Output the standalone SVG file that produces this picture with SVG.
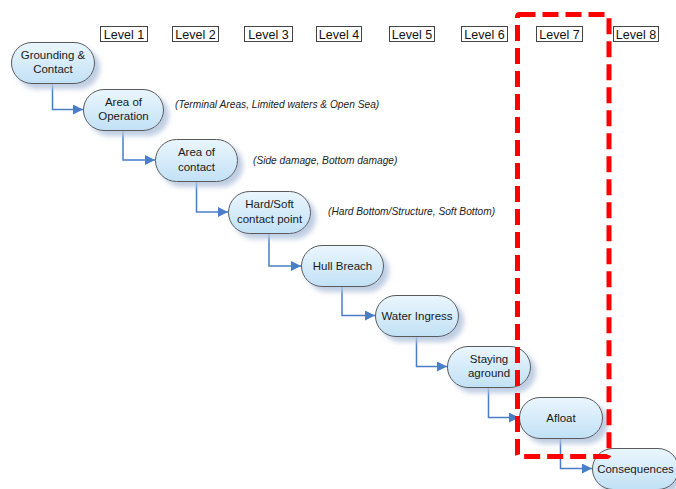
<svg xmlns="http://www.w3.org/2000/svg" width="676" height="489" viewBox="0 0 676 489">
  <defs>
    <linearGradient id="nodeFill" x1="0" y1="0" x2="0" y2="1">
      <stop offset="0" stop-color="#eaf6fd"/>
      <stop offset="1" stop-color="#c2e1f6"/>
    </linearGradient>
    <filter id="shadow" x="-20%" y="-20%" width="150%" height="160%">
      <feDropShadow dx="5" dy="5" stdDeviation="2.5" flood-color="#b4c5de" flood-opacity="0.85"/>
    </filter>
    <marker id="arrow" viewBox="0 0 10 10" refX="10" refY="5" markerWidth="10" markerHeight="10" markerUnits="userSpaceOnUse" orient="auto">
      <path d="M0,0 L10,5 L0,10 z" fill="#4a7ec7"/>
    </marker>
    <style>
      .node rect { fill: url(#nodeFill); stroke: #5a5a5a; stroke-width: 1; filter: url(#shadow); }
      .node text { font-family: "Liberation Sans", Arial, sans-serif; font-size: 11.5px; fill: #1a1a1a; text-anchor: middle; }
      .level rect { fill: #ffffff; stroke: #444444; stroke-width: 1; }
      .level text { font-family: "Liberation Sans", Arial, sans-serif; font-size: 12.5px; fill: #111111; text-anchor: middle; }
      .note { font-family: "Liberation Sans", Arial, sans-serif; font-size: 10.2px; font-style: italic; fill: #222222; }
      .conn path { fill: none; stroke: #4a7ec7; stroke-width: 1.5; marker-end: url(#arrow); }
    </style>
  </defs>
  <rect width="676" height="489" fill="#ffffff"/>

  <!-- level headers -->
  <g id="levels">
    <g class="level" id="level1"><rect x="100.5" y="26.5" width="47" height="15"/><text x="124" y="38.5">Level 1</text></g>
    <g class="level" id="level2"><rect x="172.5" y="26.5" width="46" height="15"/><text x="195.5" y="38.5">Level 2</text></g>
    <g class="level" id="level3"><rect x="244.5" y="26.5" width="48" height="15"/><text x="268.5" y="38.5">Level 3</text></g>
    <g class="level" id="level4"><rect x="316.5" y="26.5" width="45" height="15"/><text x="339" y="38.5">Level 4</text></g>
    <g class="level" id="level5"><rect x="389.5" y="26.5" width="45" height="15"/><text x="412" y="38.5">Level 5</text></g>
    <g class="level" id="level6"><rect x="461.5" y="26.5" width="46" height="15"/><text x="484.5" y="38.5">Level 6</text></g>
    <g class="level" id="level7"><rect x="536.5" y="26.5" width="46" height="15"/><text x="559.5" y="38.5">Level 7</text></g>
    <g class="level" id="level8"><rect x="613.5" y="26.5" width="45" height="15"/><text x="636" y="38.5">Level 8</text></g>
  </g>

  <!-- connectors -->
  <g id="connectors" class="conn">
    <path d="M52.5,83 V109.5 H83"/>
    <path d="M123,130 V160 H155"/>
    <path d="M196.5,181 V212 H228"/>
    <path d="M269,233 V266 H301"/>
    <path d="M342,287 V315.5 H375"/>
    <path d="M416.5,336 V366.5 H447"/>
    <path d="M488.5,387 V417.5 H519"/>
    <path d="M560.5,438 V468.5 H592"/>
  </g>

  <!-- process nodes -->
  <g id="grounding" class="node">
    <rect x="11.5" y="42.5" width="83" height="41" rx="20.5"/>
    <text x="53" y="59">Grounding &amp;</text>
    <text x="53" y="73">Contact</text>
  </g>
  <g id="area-operation" class="node">
    <rect x="83.5" y="89.5" width="80" height="41" rx="20.5"/>
    <text x="123.5" y="106">Area of</text>
    <text x="123.5" y="120">Operation</text>
  </g>
  <g id="area-contact" class="node">
    <rect x="155.5" y="139.5" width="82" height="42" rx="21"/>
    <text x="196.5" y="156">Area of</text>
    <text x="196.5" y="171">contact</text>
  </g>
  <g id="hard-soft" class="node">
    <rect x="228.5" y="191.5" width="82" height="42" rx="21"/>
    <text x="269.5" y="208">Hard/Soft</text>
    <text x="269.5" y="223">contact point</text>
  </g>
  <g id="hull-breach" class="node">
    <rect x="301.5" y="245.5" width="82" height="41" rx="20.5"/>
    <text x="342.5" y="270">Hull Breach</text>
  </g>
  <g id="water-ingress" class="node">
    <rect x="375.5" y="295.5" width="83" height="41" rx="20.5"/>
    <text x="417" y="320">Water Ingress</text>
  </g>
  <g id="staying-aground" class="node">
    <rect x="447.5" y="346.5" width="83" height="41" rx="20.5"/>
    <text x="489" y="363">Staying</text>
    <text x="489" y="377">aground</text>
  </g>
  <g id="afloat" class="node">
    <rect x="519.5" y="397.5" width="83" height="41" rx="20.5"/>
    <text x="561" y="422">Afloat</text>
  </g>
  <g id="consequences" class="node">
    <rect x="592.5" y="448.5" width="86" height="41" rx="20.5"/>
    <text x="635.5" y="473">Consequences</text>
  </g>

  <!-- annotations -->
  <text class="note" x="175" y="108">(Terminal Areas, Limited waters &amp; Open Sea)</text>
  <text class="note" x="253" y="164">(Side damage, Bottom damage)</text>
  <text class="note" x="328" y="215">(Hard Bottom/Structure, Soft Bottom)</text>

  <!-- highlight around level 7 -->
  <rect id="highlight" x="517.5" y="14.5" width="91.5" height="442" rx="2" fill="none" stroke="#ff0000" stroke-width="5" stroke-dasharray="16 7"/>
</svg>
